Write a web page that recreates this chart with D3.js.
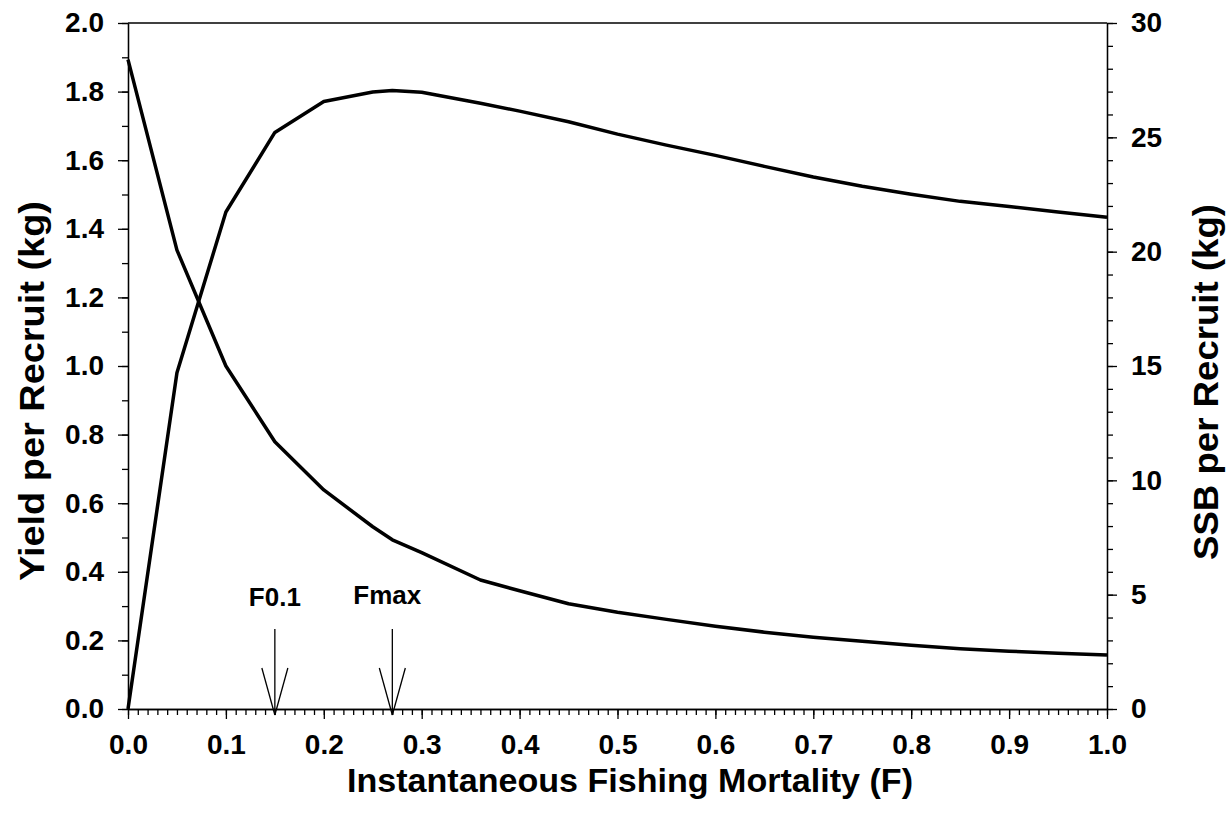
<!DOCTYPE html>
<html><head><meta charset="utf-8">
<script src="https://cdn.jsdelivr.net/npm/d3@7"></script>
<style>
html,body{margin:0;padding:0;background:#fff;}
text{font-family:"Liberation Sans",Arial,sans-serif;font-weight:bold;fill:#000;}
</style></head>
<body>
<svg id="chart" width="1229" height="818"></svg>
<script>
// Fishing mortality (F) values
const fValues = [0, 0.05, 0.1, 0.15, 0.2, 0.25, 0.27, 0.3, 0.36, 0.4, 0.45, 0.5, 0.55, 0.6, 0.65, 0.7, 0.75, 0.8, 0.85, 0.9, 0.95, 1.0];
// Yield per recruit (kg) – left axis
const yprValues = [0, 0.98, 1.449, 1.681, 1.771, 1.799, 1.803, 1.798, 1.766, 1.743, 1.712, 1.676, 1.644, 1.614, 1.582, 1.551, 1.524, 1.501, 1.480, 1.465, 1.449, 1.434];
// SSB per recruit (kg) – right axis
const ssbValues = [28.4, 20.07, 15.0, 11.69, 9.58, 7.97, 7.4, 6.84, 5.64, 5.17, 4.60, 4.23, 3.92, 3.62, 3.36, 3.14, 2.96, 2.79, 2.64, 2.53, 2.44, 2.36];
// Reference points
const refLabels = ["F0.1", "Fmax"];
const refF = [0.15, 0.27];
// Tick values
const xMajorTicks = d3.range(0, 1.0001, 0.1);
const xMinorTicks = d3.range(0, 1.0001, 0.01);
const yLeftMajor = d3.range(0, 2.0001, 0.2);
const yLeftMinor = d3.range(0, 2.0001, 0.1);
const yRightMajor = [0, 5, 10, 15, 20, 25, 30];
const yRightMinor = d3.range(0, 31, 1);

const svg = d3.select("#chart");
const L = 128, R = 1107, T = 23, B = 709;
const x = d3.scaleLinear().domain([0, 1]).range([L, R]);
const yL = d3.scaleLinear().domain([0, 2]).range([B, T]);
const yR = d3.scaleLinear().domain([0, 30]).range([B, T]);

const axisStroke = 1.3;
function styleAxis(g, fs) {
  g.selectAll("path.domain").attr("stroke", "#000").attr("stroke-width", axisStroke);
  g.selectAll(".tick line").attr("stroke", "#000").attr("stroke-width", axisStroke);
  g.selectAll(".tick text").attr("font-size", fs).attr("font-family", "'Liberation Sans', Arial, sans-serif").attr("font-weight", "bold").attr("fill", "#000");
}

// top border
svg.append("line").attr("x1", L).attr("x2", R).attr("y1", T).attr("y2", T)
  .attr("stroke", "#000").attr("stroke-width", axisStroke);

// x axis minor
const gxm = svg.append("g").attr("transform", `translate(0,${B})`)
  .call(d3.axisBottom(x).tickValues(xMinorTicks).tickSize(6).tickSizeOuter(0).tickFormat(""));
styleAxis(gxm, 28);
const gx = svg.append("g").attr("transform", `translate(0,${B})`)
  .call(d3.axisBottom(x).tickValues(xMajorTicks).tickSize(10).tickSizeOuter(0).tickPadding(15).tickFormat(d3.format(".1f")));
styleAxis(gx, 28);

// left axis
const gym = svg.append("g").attr("transform", `translate(${L},0)`)
  .call(d3.axisLeft(yL).tickValues(yLeftMinor).tickSize(6).tickSizeOuter(0).tickFormat(""));
styleAxis(gym, 28);
const gy = svg.append("g").attr("transform", `translate(${L},0)`)
  .call(d3.axisLeft(yL).tickValues(yLeftMajor).tickSize(10).tickSizeOuter(0).tickPadding(14).tickFormat(d3.format(".1f")));
styleAxis(gy, 28);

// right axis
const grm = svg.append("g").attr("transform", `translate(${R},0)`)
  .call(d3.axisRight(yR).tickValues(yRightMinor).tickSize(6).tickSizeOuter(0).tickFormat(""));
styleAxis(grm, 28);
const gr = svg.append("g").attr("transform", `translate(${R},0)`)
  .call(d3.axisRight(yR).tickValues(yRightMajor).tickSize(10).tickSizeOuter(0).tickPadding(14).tickFormat(d3.format("d")));
styleAxis(gr, 28);

// curves
const ypr = fValues.map((f, i) => [f, yprValues[i]]);
const ssb = fValues.map((f, i) => [f, ssbValues[i]]);
svg.append("path").datum(ypr)
  .attr("d", d3.line().x(d => x(d[0])).y(d => yL(d[1])))
  .attr("fill", "none").attr("stroke", "#000").attr("stroke-width", 3.5).attr("stroke-linejoin", "round");
svg.append("path").datum(ssb)
  .attr("d", d3.line().x(d => x(d[0])).y(d => yR(d[1])))
  .attr("fill", "none").attr("stroke", "#000").attr("stroke-width", 3.5).attr("stroke-linejoin", "round");

// reference arrows
refF.forEach((f, i) => {
  const cx = x(f);
  const g = svg.append("g");
  const tip = B + 6;
  g.append("line").attr("x1", cx).attr("x2", cx).attr("y1", B - 80).attr("y2", tip)
    .attr("stroke", "#000").attr("stroke-width", 1.3);
  g.append("line").attr("x1", cx - 13).attr("x2", cx).attr("y1", B - 41).attr("y2", tip)
    .attr("stroke", "#000").attr("stroke-width", 1.3);
  g.append("line").attr("x1", cx + 13).attr("x2", cx).attr("y1", B - 41).attr("y2", tip)
    .attr("stroke", "#000").attr("stroke-width", 1.3);
  g.append("text").attr("x", cx + (i === 1 ? -5 : 0)).attr("y", B - 103 - (i === 1 ? 2 : 0))
    .attr("text-anchor", "middle").attr("font-size", 26).text(refLabels[i]);
});

// axis titles
svg.append("text").attr("x", 630).attr("y", 792)
  .attr("text-anchor", "middle").attr("font-size", 34)
  .attr("textLength", 566).attr("lengthAdjust", "spacingAndGlyphs")
  .text("Instantaneous Fishing Mortality (F)");
svg.append("text").attr("transform", `translate(44,391) rotate(-90)`)
  .attr("text-anchor", "middle").attr("font-size", 35)
  .attr("textLength", 380).attr("lengthAdjust", "spacingAndGlyphs")
  .text("Yield per Recruit (kg)");
svg.append("text").attr("transform", `translate(1218,382) rotate(-90)`)
  .attr("text-anchor", "middle").attr("font-size", 35)
  .attr("textLength", 356).attr("lengthAdjust", "spacingAndGlyphs")
  .text("SSB per Recruit (kg)");
</script>
</body></html>
